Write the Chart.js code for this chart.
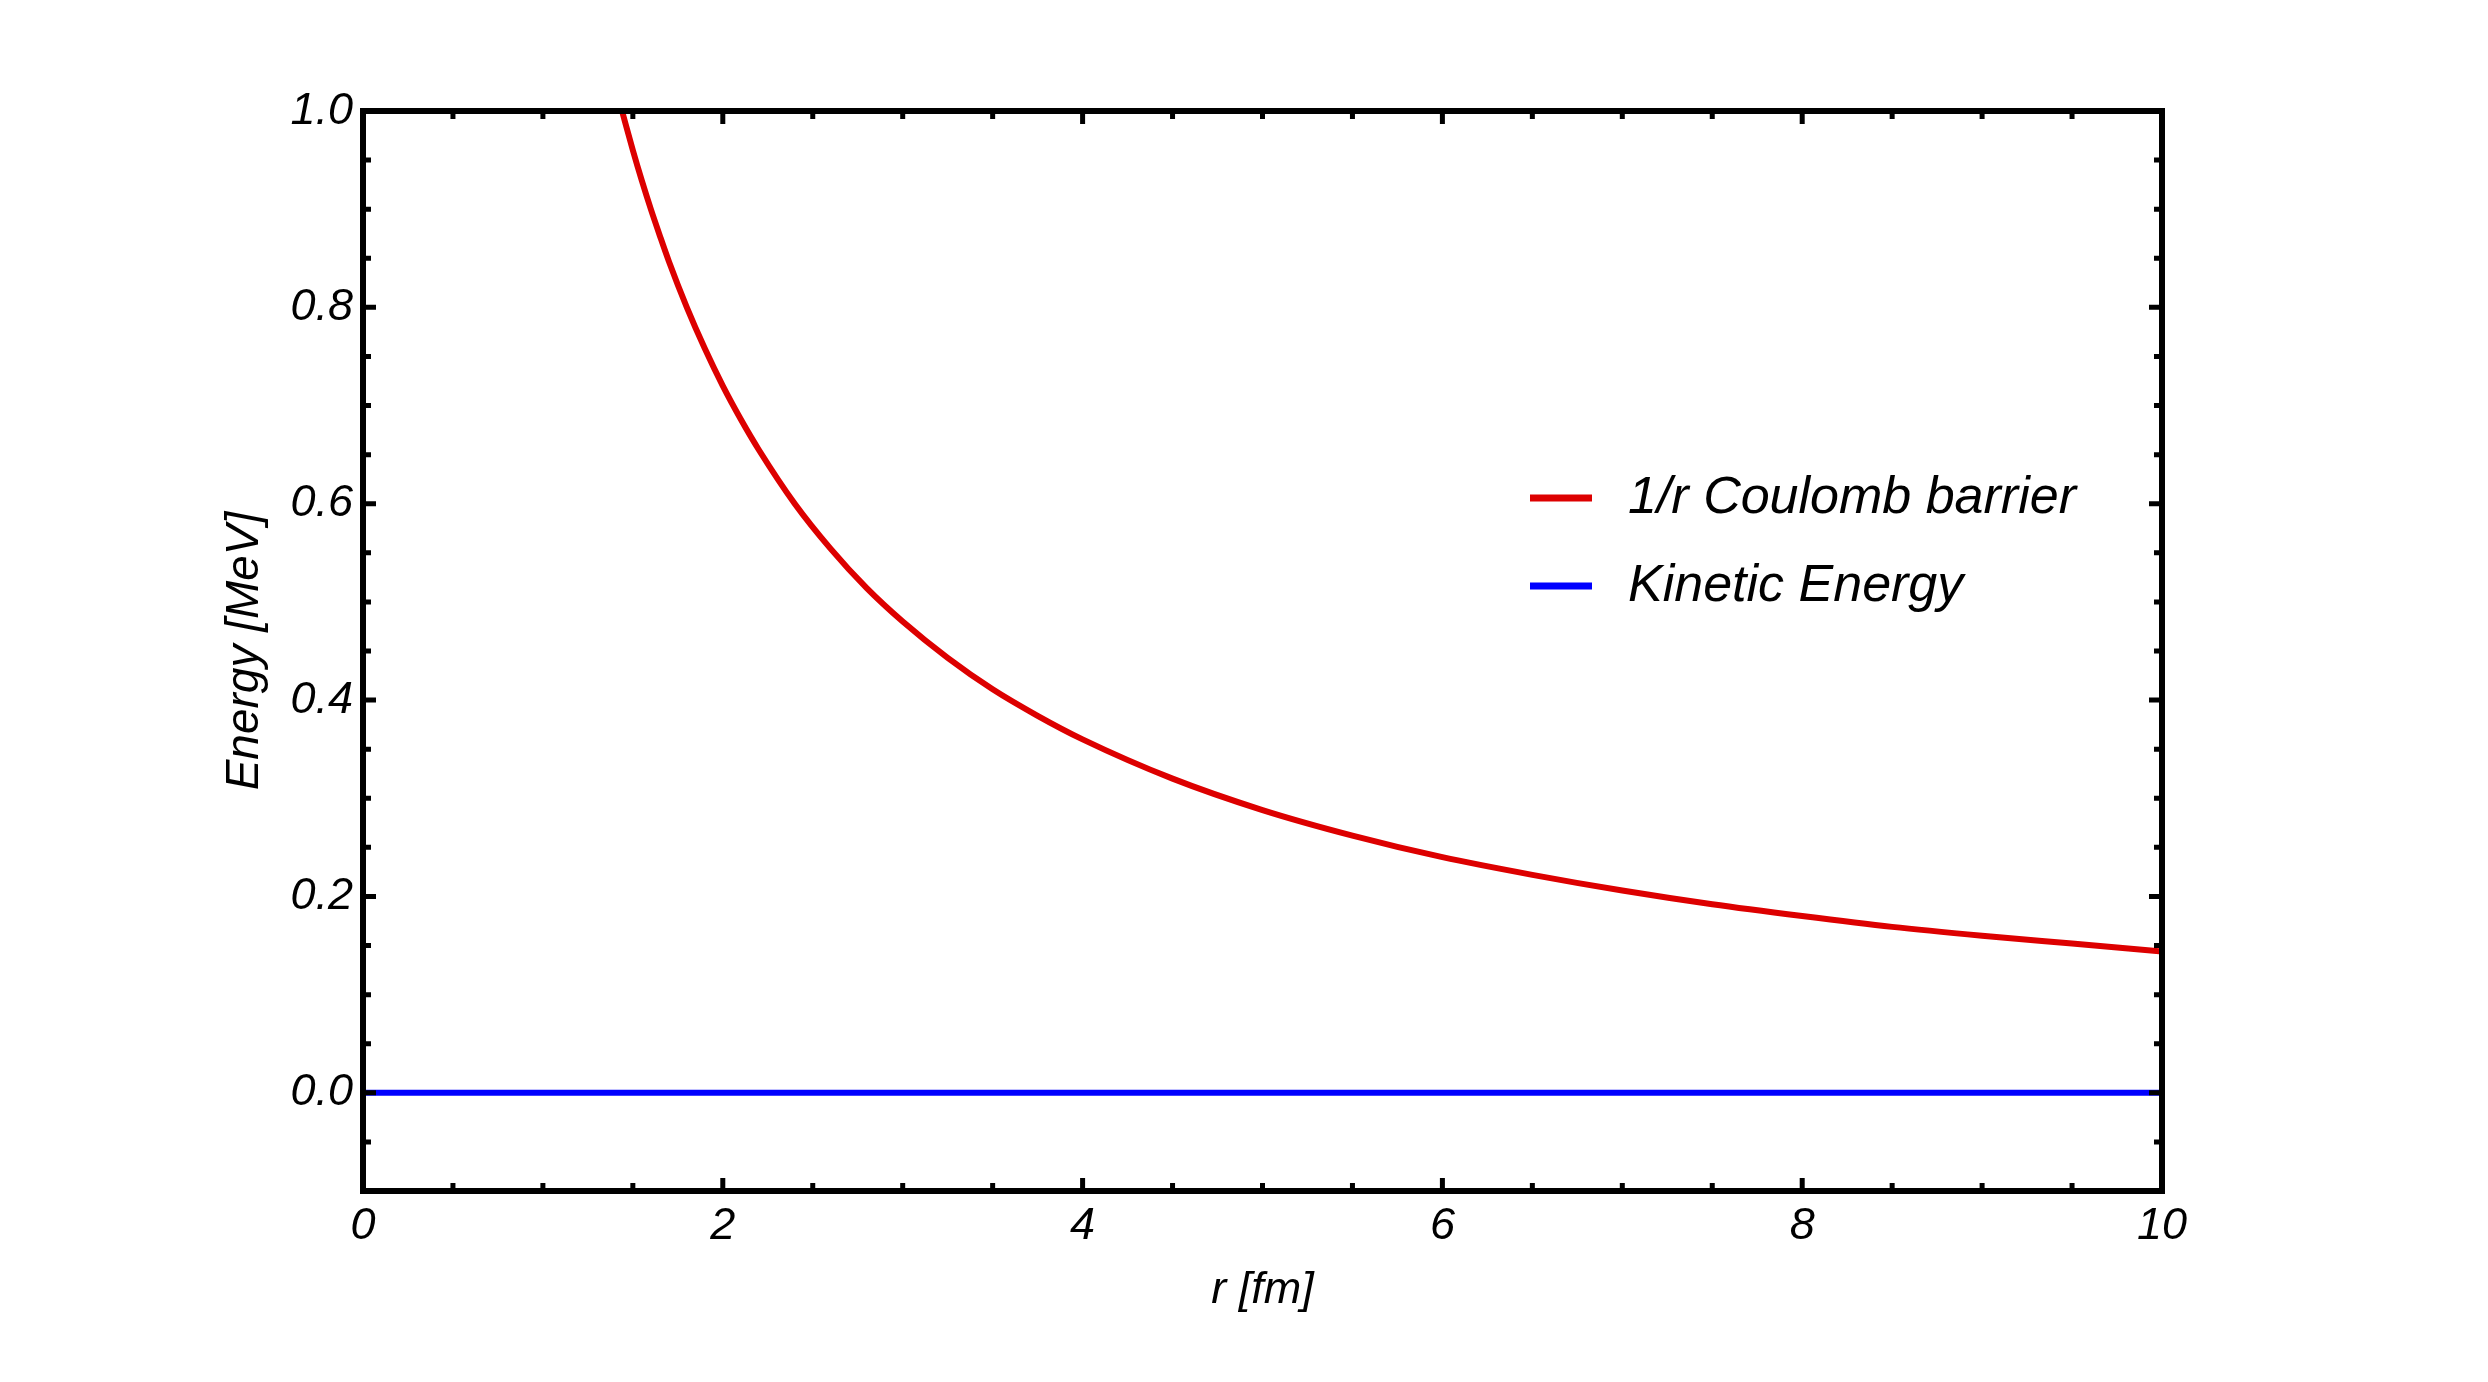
<!DOCTYPE html>
<html>
<head>
<meta charset="utf-8">
<script src="https://cdn.jsdelivr.net/npm/chart.js@4.4.1/dist/chart.umd.min.js"></script>
<style>
  html, body { margin: 0; padding: 0; background: #ffffff; }
  #wrap { width: 2488px; height: 1382px; }
  canvas { display: block; }
</style>
</head>
<body>
<div id="wrap"><canvas id="c" width="2488" height="1382"></canvas></div>
<script>
// ---- data ----
const seriesLabels = ["1/r Coulomb barrier", "Kinetic Energy"];
const coulombR = [1.44, 1.5, 1.55, 1.6, 1.65, 1.7, 1.8, 1.9, 2.0, 2.1, 2.2, 2.4, 2.6, 2.8, 3.0, 3.25, 3.5, 3.75, 4.0, 4.5, 5.0, 5.5, 6.0, 6.5, 7.0, 7.5, 8.0, 8.5, 9.0, 9.5, 10.0];
const coulombE = [1.000, 0.960, 0.929, 0.900, 0.873, 0.847, 0.800, 0.758, 0.720, 0.686, 0.655, 0.600, 0.554, 0.514, 0.480, 0.443, 0.411, 0.384, 0.360, 0.320, 0.288, 0.262, 0.240, 0.222, 0.206, 0.192, 0.180, 0.169, 0.160, 0.152, 0.144];
const kineticR = [0, 10];
const kineticE = [0, 0];

// ---- axes / ticks ----
const xMin = 0, xMax = 10;
const yMin = -0.1, yMax = 1.0;
const xMajorTicks = [0, 2, 4, 6, 8, 10];
const xMinorTicks = [0.5, 1, 1.5, 2.5, 3, 3.5, 4.5, 5, 5.5, 6.5, 7, 7.5, 8.5, 9, 9.5];
const yMajorTicks = [0.0, 0.2, 0.4, 0.6, 0.8, 1.0];
const yMinorTicks = [-0.05, 0.05, 0.1, 0.15, 0.25, 0.3, 0.35, 0.45, 0.5, 0.55, 0.65, 0.7, 0.75, 0.85, 0.9, 0.95];
const xTitle = "r [fm]";
const yTitle = "Energy [MeV]";

const FONT = "'Liberation Sans', Arial, Helvetica, sans-serif";
const RED = "#dd0000";
const BLUE = "#0000ff";

const framePlugin = {
  id: 'frameTicks',
  afterDatasetsDraw(chart) {
    const ctx = chart.ctx;
    const a = chart.chartArea;
    const xs = chart.scales.x, ys = chart.scales.y;
    ctx.save();
    ctx.strokeStyle = '#000';
    ctx.lineJoin = 'miter';
    ctx.lineCap = 'butt';
    const drawX = (vals, len) => {
      vals.forEach(v => {
        const px = xs.getPixelForValue(v);
        ctx.beginPath();
        ctx.moveTo(px, a.bottom); ctx.lineTo(px, a.bottom - len);
        ctx.moveTo(px, a.top); ctx.lineTo(px, a.top + len);
        ctx.stroke();
      });
    };
    const drawY = (vals, len) => {
      vals.forEach(v => {
        const py = ys.getPixelForValue(v);
        ctx.beginPath();
        ctx.moveTo(a.left, py); ctx.lineTo(a.left + len, py);
        ctx.moveTo(a.right, py); ctx.lineTo(a.right - len, py);
        ctx.stroke();
      });
    };
    ctx.lineWidth = 5;
    drawX(xMinorTicks, 8);
    drawY(yMinorTicks, 8);
    drawX(xMajorTicks, 13);
    drawY(yMajorTicks, 13);
    ctx.lineWidth = 6;
    ctx.strokeRect(a.left, a.top, a.right - a.left, a.bottom - a.top);
    ctx.restore();
  },
  afterDraw(chart) {
    const ctx = chart.ctx;
    const items = chart.data.datasets;
    const lx0 = 1530, lx1 = 1592, tx = 1628;
    const rows = [498, 586];
    ctx.save();
    ctx.font = "italic 52px " + FONT;
    ctx.textBaseline = 'alphabetic';
    ctx.textAlign = 'left';
    items.forEach((ds, i) => {
      const y = rows[i];
      ctx.strokeStyle = ds.borderColor;
      ctx.lineWidth = 7;
      ctx.lineCap = 'butt';
      ctx.beginPath();
      ctx.moveTo(lx0, y); ctx.lineTo(lx1, y);
      ctx.stroke();
      ctx.fillStyle = '#000';
      ctx.fillText(ds.label, tx, y + 15);
    });
    ctx.restore();
  }
};

const chart = new Chart(document.getElementById('c'), {
  type: 'line',
  data: {
    datasets: [
      {
        label: seriesLabels[0],
        data: coulombR.map((r, i) => ({ x: r, y: coulombE[i] })),
        borderColor: RED,
        borderWidth: 6,
        pointRadius: 0,
        cubicInterpolationMode: 'monotone',
        fill: false
      },
      {
        label: seriesLabels[1],
        data: kineticR.map((r, i) => ({ x: r, y: kineticE[i] })),
        borderColor: BLUE,
        borderWidth: 6,
        pointRadius: 0,
        fill: false
      }
    ]
  },
  options: {
    responsive: false,
    animation: false,
    devicePixelRatio: 1,
    layout: { padding: { top: 111, right: 326, left: 0, bottom: 0 } },
    plugins: { legend: { display: false }, tooltip: { enabled: false } },
    scales: {
      x: {
        type: 'linear',
        min: xMin, max: xMax,
        afterBuildTicks: s => { s.ticks = xMajorTicks.map(v => ({ value: v })); },
        afterFit: s => { s.height = 191; },
        ticks: {
          color: '#000',
          padding: 8,
          maxRotation: 0,
          font: { family: FONT, size: 45, style: 'italic' },
          callback: v => String(v)
        },
        grid: { display: false, drawTicks: false },
        border: { display: false },
        title: {
          display: true, text: xTitle, color: '#000',
          font: { family: FONT, size: 45, style: 'italic' },
          padding: { top: 0, bottom: 65 }
        }
      },
      y: {
        type: 'linear',
        min: yMin, max: yMax,
        afterBuildTicks: s => { s.ticks = yMajorTicks.map(v => ({ value: v })); },
        afterFit: s => { s.width = 363; },
        ticks: {
          color: '#000',
          padding: 10,
          font: { family: FONT, size: 45, style: 'italic' },
          callback: v => Number(v).toFixed(1)
        },
        grid: { display: false, drawTicks: false },
        border: { display: false },
        title: {
          display: true, text: yTitle, color: '#000',
          font: { family: FONT, size: 46, style: 'italic' },
          padding: { top: 218, bottom: 0 }
        }
      }
    }
  },
  plugins: [framePlugin]
});
</script>
</body>
</html>
